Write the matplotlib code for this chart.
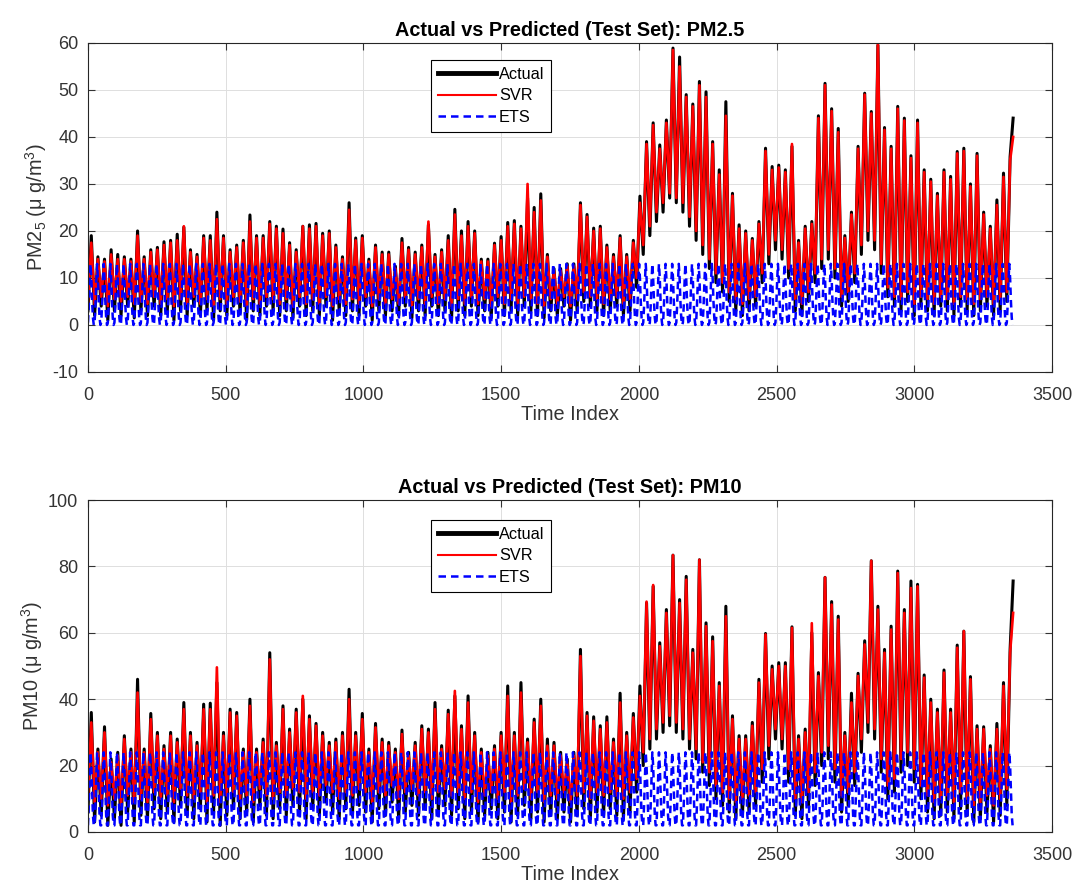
import numpy as np
import matplotlib
matplotlib.use('Agg')
import matplotlib.pyplot as plt

plt.rcParams['font.family'] = ['Liberation Sans', 'DejaVu Sans']
plt.rcParams['mathtext.fontset'] = 'custom'
plt.rcParams['mathtext.rm'] = 'Liberation Sans'
plt.rcParams['mathtext.it'] = 'Liberation Sans:italic'
plt.rcParams['mathtext.default'] = 'regular'
plt.rcParams['axes.unicode_minus'] = False

# --- Data: one trough and one peak per day (24 steps) ---
n_last = 3359

pm25_actual_peaks = [
    19, 14.5, 14, 16, 15, 14.5, 14, 20, 14.5, 16,
    16.5, 17.7, 18, 19.3, 20.8, 16, 15, 19, 19, 24,
    19, 16, 17, 18, 23.4, 19, 19, 22, 21, 20.4,
    17.5, 16, 21, 21.3, 21.6, 19.5, 20, 17, 14.5, 26,
    18.5, 19, 14, 17, 15.5, 15.5, 12.5, 18.4, 16.5, 15.5,
    17, 21.3, 15, 16, 19, 24.6, 20, 22, 20, 14,
    14, 17.4, 18.8, 21.8, 22.2, 21, 27, 25, 27.9, 15,
    12, 12, 13, 13, 26, 23.5, 20.6, 21, 17, 15,
    19, 15, 18, 27.4, 39, 43, 38.3, 43.6, 58.9, 57,
    49, 47, 51.8, 49.6, 39, 33, 47.5, 28, 21.3, 20,
    18.4, 22, 37.6, 33.7, 34, 33, 38, 18, 21, 22,
    44.5, 51.4, 46, 41.8, 19, 24, 38, 49.3, 45.4, 59.5,
    42, 38, 46.5, 44, 36, 43.6, 33, 31, 28, 33,
    31.6, 36.9, 37.6, 30, 36.5, 24, 21, 26.6, 32.3, 35.8]
pm25_actual_troughs = [
    3, 2, 4, 1, 3, 2, 4, 1.5, 3, 2,
    4, 2, 3, 1, 3, 2, 4, 2, 3, 1,
    3, 2, 4, 2.5, 1, 3, 2, 4, 3, 2,
    3, 1.5, 4, 2, 3, 2, 4, 1, 3, 2,
    3, 2, 4, 1, 3, 2, 3, 2, 4, 1.5,
    3, 2, 4, 2, 3, 1, 3, 2, 4, 2,
    3, 1.5, 4, 2, 3, 2, 4, 3, 2, 1.5,
    3, 2, 4, 1, 3, 5, 4, 3, 2, 3,
    4, 2, 3, 8, 15, 19, 22, 24, 27, 26,
    24, 21, 18, 15, 12, 9, 7, 5, 3, 2,
    3, 4, 9, 13, 16, 14, 10, 3, 2, 5,
    9, 12, 14, 10, 4, 5, 9, 15, 18, 16,
    11, 6, 4, 3, 5, 2, 4, 3, 2, 4,
    3, 2, 4, 3, 2, 3, 4, 2, 3, 5]
pm25_actual_end = 44

pm25_svr_peaks = [
    17.5, 14, 13.5, 15, 14, 14, 13.5, 19, 14, 15.5,
    16, 17, 17.5, 18, 21, 15.5, 14.5, 18.5, 18, 22.5,
    18.5, 15.5, 16.5, 17.5, 22, 18.5, 18.5, 21.5, 20.5, 19.5,
    17, 15.5, 21, 20.5, 21, 19, 19.5, 16.5, 14, 24.5,
    18, 18.5, 13.5, 16.5, 15, 15, 12, 17.5, 16, 15,
    16.5, 22, 14.5, 15.5, 18, 23.5, 19, 21, 19.5, 13.5,
    13.5, 17, 18, 21, 21.5, 20.5, 30, 24, 26.5, 14.5,
    11.5, 11.5, 12.5, 12.5, 25.5, 23, 20, 20.5, 16.5, 14.5,
    18.5, 14.5, 17.5, 26, 38.5, 42.5, 37.5, 43, 58.5, 55,
    48.5, 46.5, 51, 48.5, 38.5, 32, 44.5, 27.5, 20.5, 19.5,
    18, 21.5, 37, 33, 33.5, 32.5, 38.5, 17.5, 20.5, 21.5,
    44, 51, 45.5, 41, 18.5, 23.5, 37.5, 49, 45, 60,
    41.5, 37.5, 46, 43.5, 35.5, 43, 32.5, 30.5, 27.5, 32.5,
    31, 36.5, 37, 29.5, 36, 23.5, 20.5, 25.5, 31.5, 35]
pm25_svr_troughs = [
    5, 4.5, 6, 4, 5.5, 5, 6, 4.5, 5, 4.5,
    6, 4.5, 5.5, 4, 5.5, 4.5, 6, 4.5, 5.5, 4,
    5.5, 4.5, 6, 5, 4, 5.5, 4.5, 6, 5.5, 4.5,
    5.5, 4, 6, 4.5, 5.5, 4.5, 6, 4, 5.5, 4.5,
    5.5, 4.5, 6, 4, 5.5, 4.5, 5.5, 4.5, 6, 4,
    5.5, 4.5, 6, 4.5, 5.5, 4, 5.5, 4.5, 6, 4.5,
    5.5, 4, 6, 4.5, 5.5, 4.5, 6, 5.5, 4.5, 4,
    5.5, 4.5, 6, 4, 5.5, 7, 6, 5.5, 4.5, 5.5,
    6, 4.5, 5.5, 10, 17, 21, 24, 26, 28, 27,
    26, 23, 20, 17, 14, 11, 9, 7, 5.5, 4.5,
    5.5, 6, 11, 15, 18, 16, 12, 5.5, 4.5, 7,
    11, 14, 16, 12, 6, 7, 11, 17, 20, 18,
    13, 8, 6, 5.5, 7, 4.5, 6, 5.5, 4.5, 6,
    5.5, 4.5, 6, 5.5, 4.5, 5.5, 6, 4.5, 5.5, 7]
pm25_svr_end = 40

# ETS daily seasonal profile (3-step spacing)
pm25_ets_day = [0.5, 4, 9, 13, 10, 5, 1.5, 0]

pm10_actual_peaks = [
    36, 25, 31.7, 22, 24, 29, 25, 46, 25, 35.7,
    30, 26, 30, 28, 39, 30, 27, 38.5, 38.8, 45,
    30, 37, 36, 25, 40, 25, 28, 54, 27, 38,
    31, 37, 40, 35, 32.7, 30, 27, 28, 30, 43,
    30, 35.7, 25, 32.7, 28, 27, 25, 30.7, 24, 27,
    32, 31, 39, 26, 36.7, 41, 32, 41, 30, 25,
    24, 26, 30, 44, 30, 45, 28, 34, 40, 28,
    27, 24, 22, 24, 55, 36, 34.7, 32, 34.7, 28,
    41.8, 30, 35.7, 44, 69, 74, 57, 67, 83.4, 70,
    77, 55, 82, 63, 58.8, 45, 68, 35, 29, 29,
    33, 46, 59.8, 50, 51, 51, 61.8, 29, 31, 60,
    48, 76.7, 69.4, 65, 30, 41.8, 47.8, 57.6, 81.7, 68,
    55, 62, 78.6, 67, 75.6, 74.6, 47.3, 40, 37, 48.8,
    37, 56.3, 60.5, 46.8, 32, 31.7, 26, 32.7, 45, 55]
pm10_actual_troughs = [
    6, 3, 5, 2, 4, 2, 6, 3, 5, 4,
    7, 4, 6, 3, 8, 5, 4, 7, 3, 6,
    2, 5, 7, 4, 6, 3, 8, 5, 4, 7,
    5, 8, 6, 4, 7, 5, 9, 6, 4, 7,
    5, 8, 6, 3, 7, 5, 9, 4, 6, 8,
    5, 7, 4, 6, 8, 5, 7, 4, 6, 3,
    5, 7, 4, 6, 3, 5, 8, 4, 6, 3,
    5, 4, 6, 3, 5, 7, 4, 6, 5, 7,
    5, 4, 6, 12, 20, 25, 28, 30, 32, 30,
    28, 25, 22, 18, 14, 10, 8, 6, 4, 5,
    6, 8, 15, 22, 28, 25, 15, 5, 4, 8,
    14, 20, 22, 15, 6, 8, 14, 24, 30, 28,
    18, 10, 12, 18, 20, 15, 10, 6, 4, 5,
    6, 4, 7, 5, 3, 4, 6, 3, 5, 8]
pm10_actual_end = 75.6

pm10_svr_peaks = [
    33, 24, 30, 21, 23, 28, 24, 42, 24, 34,
    29, 25, 29, 27, 37, 29, 26, 37, 37, 49.6,
    29, 36, 35, 24, 38, 24, 27, 52, 26, 37,
    30, 36, 41, 34, 32, 29, 26, 27, 29, 40,
    29, 34, 24, 31.5, 27, 26, 24, 29.5, 23, 26,
    31, 30, 37, 25, 35.5, 42.5, 31, 39, 29, 24,
    23, 25, 29, 41, 29, 42, 27, 33, 38, 26,
    26, 23, 21, 23, 53, 35, 33.5, 31, 33, 27,
    39, 29, 34.5, 41, 69.4, 74.4, 56, 66, 83.4, 69,
    76, 54, 82, 62, 57.5, 44, 65, 34, 28, 28,
    32, 45, 59.5, 49, 50, 50, 61.5, 28, 30, 62.9,
    47, 76.7, 68.5, 64, 29, 39, 47, 56.5, 81.7, 67,
    54, 61, 78, 66, 73.5, 74, 46.5, 39, 36, 48,
    36, 55.5, 60.5, 46, 31, 31, 25, 31, 44, 54]
pm10_svr_troughs = [
    11, 9, 10, 8, 10, 8, 11, 9, 10, 9,
    12, 10, 11, 9, 13, 11, 10, 12, 9, 11,
    9, 11, 12, 10, 11, 9, 13, 11, 10, 12,
    11, 13, 12, 10, 12, 11, 14, 12, 10, 12,
    11, 13, 12, 9, 12, 11, 14, 10, 12, 13,
    11, 12, 10, 12, 13, 11, 12, 10, 12, 9,
    11, 12, 10, 12, 9, 11, 13, 10, 12, 9,
    11, 10, 12, 9, 11, 12, 10, 12, 11, 12,
    11, 10, 12, 16, 24, 28, 31, 33, 35, 33,
    31, 28, 25, 21, 18, 14, 12, 10, 9, 10,
    11, 12, 19, 26, 31, 28, 19, 10, 9, 12,
    18, 24, 26, 19, 11, 12, 18, 28, 33, 31,
    22, 14, 16, 22, 24, 19, 14, 11, 9, 10,
    11, 9, 12, 10, 8, 9, 11, 8, 10, 13]
pm10_svr_end = 66

pm10_ets_day = [2, 8, 16, 24, 20, 12, 5, 2]


def zigzag(troughs, peaks, end_val):
    y = np.column_stack([troughs, peaks]).ravel()
    y = np.append(y, end_val)
    x = np.arange(len(y)) * 12.0
    x[-1] = n_last
    return x, y


def ets_series(day_profile, n_days):
    y = np.tile(day_profile, n_days)
    x = np.arange(len(y)) * (24.0 / len(day_profile))
    return x, y


panels = [
    dict(title='Actual vs Predicted (Test Set): PM2.5',
         ylabel=r'PM2$_5$ ($\mu$ g/m$^3$)',
         actual=(pm25_actual_troughs, pm25_actual_peaks, pm25_actual_end),
         svr=(pm25_svr_troughs, pm25_svr_peaks, pm25_svr_end),
         ets=pm25_ets_day, ylim=(-10, 60), yticks=np.arange(-10, 61, 10),
         rect=[0.082, 0.5797, 0.8984, 0.3718], leg_top=0.948),
    dict(title='Actual vs Predicted (Test Set): PM10',
         ylabel=r'PM10 ($\mu$ g/m$^3$)',
         actual=(pm10_actual_troughs, pm10_actual_peaks, pm10_actual_end),
         svr=(pm10_svr_troughs, pm10_svr_peaks, pm10_svr_end),
         ets=pm10_ets_day, ylim=(0, 100), yticks=np.arange(0, 101, 20),
         rect=[0.082, 0.0599, 0.8984, 0.3751], leg_top=0.94),
]

fig = plt.figure(figsize=(10.73, 8.85), dpi=100)

for p in panels:
    ax = fig.add_axes(p['rect'])
    n_days = len(p['actual'][1])
    xa, ya = zigzag(*p['actual'])
    xs, ys = zigzag(*p['svr'])
    xe, ye = ets_series(p['ets'], n_days)

    ax.plot(xa, ya, color='black', lw=2.2, label='Actual')
    ax.plot(xs, ys, color='red', lw=1.9, label='SVR')
    ax.plot(xe, ye, color='blue', lw=1.8, ls='--', dashes=(3, 2), label='ETS')

    ax.set_xlim(0, 3500)
    ax.set_ylim(*p['ylim'])
    ax.set_xticks(np.arange(0, 3501, 500))
    ax.set_yticks(p['yticks'])
    ax.grid(True, color='#dedede', lw=0.7)
    ax.set_axisbelow(True)
    ax.tick_params(direction='in', top=True, right=True, labelsize=13,
                   length=5, width=0.8, colors='#333333')
    ax.tick_params(axis='x', pad=10.5)
    ax.tick_params(axis='y', pad=7)
    for s in ax.spines.values():
        s.set_color('#262626')
        s.set_linewidth(0.8)
    ax.set_title(p['title'], fontsize=14.3, fontweight='bold', pad=5)
    ax.set_xlabel('Time Index', fontsize=14.3, color='#333333', labelpad=1)
    ax.set_ylabel(p['ylabel'], fontsize=14.3, color='#333333', labelpad=2)
    leg = ax.legend(loc='upper left', bbox_to_anchor=(0.356, p['leg_top']),
                    fontsize=11.7, fancybox=False, framealpha=1,
                    edgecolor='black', borderaxespad=0, handlelength=3.6,
                    handletextpad=0.15, labelspacing=0.4, borderpad=0.42)
    leg.get_frame().set_linewidth(0.8)
    leg.legend_handles[0].set_linewidth(3.5)
    leg.legend_handles[1].set_linewidth(1.5)

fig.savefig('out.png', dpi=100)
